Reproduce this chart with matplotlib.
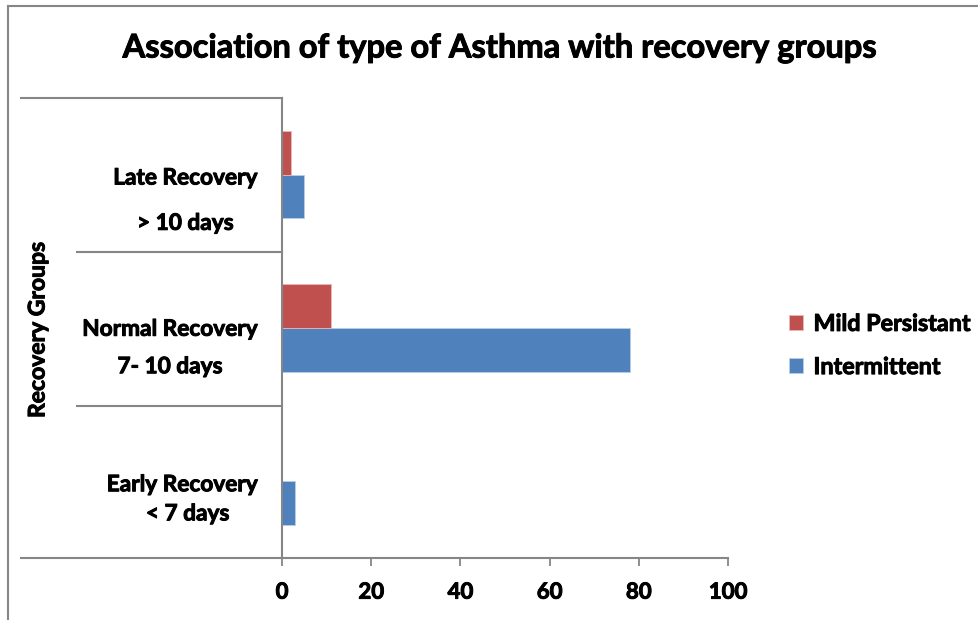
import matplotlib
matplotlib.use("Agg")
import matplotlib.pyplot as plt
from matplotlib.lines import Line2D
from matplotlib.transforms import offset_copy
import matplotlib.patheffects as pe
import numpy as np

# Data
categories = ["Early Recovery\n  < 7 days", "Normal Recovery\n7- 10 days", "Late Recovery\n> 10 days"]
intermittent = [3, 78, 5]
mild_persistant = [0, 11, 2]
series_names = ["Mild Persistant", "Intermittent"]
x_ticks = [0, 20, 40, 60, 80, 100]

RED = "#C0504D"
BLUE = "#4F81BD"
GREY = "#868686"
WEIGHT = "bold"
HEAVY = [pe.withStroke(linewidth=0.7, foreground="black")]

plt.rcParams["font.family"] = ["Lato", "DejaVu Sans"]
plt.rcParams["font.weight"] = WEIGHT

W, H = 979, 620
fig = plt.figure(figsize=(W / 100, H / 100), dpi=100)

def fx(px):
    return px / W

def fy(py):
    return 1 - py / H

ax = fig.add_axes([fx(282), fy(558), fx(728) - fx(282), fy(98) - fy(558)])

y = np.arange(len(categories))
h = 1 / 3.5  # 150% gap width
ax.barh(y - h / 2, intermittent, height=h, color=BLUE, edgecolor="#B9CDE5", linewidth=0.6, label=series_names[1], zorder=2)
ax.barh(y + h / 2, mild_persistant, height=h, color=RED, edgecolor="#E6B9B8", linewidth=0.6, label=series_names[0], zorder=2)

ax.set_xlim(0, 100)
ax.set_ylim(-0.5, len(categories) - 0.5)
ax.set_xticks(x_ticks)
ax.set_xticklabels([str(t) for t in x_ticks], fontsize=16, fontweight=WEIGHT)
for t in ax.get_xticklabels():
    t.set_path_effects(HEAVY)
ax.tick_params(axis="x", length=6, width=1.3, color=GREY, pad=11, direction="out")
ax.set_yticks([])

for side in ("top", "right"):
    ax.spines[side].set_visible(False)
for side in ("left", "bottom"):
    ax.spines[side].set_color(GREY)
    ax.spines[side].set_linewidth(1.5)

# Category labels, each as a centred block right-aligned against the axis
spacings = [1.48, 1.97, 2.43]
drops = [18, 20, 26]  # downward shift of each label block, in pixels
ytrans = ax.get_yaxis_transform()
for yi, label, ls, d in zip(y, categories, spacings, drops):
    tr = offset_copy(ytrans, fig=fig, x=0, y=-d * 72 / 100, units="points")
    ax.text(-0.055, yi, label, transform=tr, ha="right", va="center",
            multialignment="center", fontsize=16.3, fontweight=WEIGHT, linespacing=ls,
            path_effects=HEAVY)

# Category separators extending to the left of the axis
sep_specs = [(98, 21), (252, 77), (406, 77), (558, 21)]
for py, x0 in sep_specs:
    fig.add_artist(Line2D([fx(x0), fx(282)], [fy(py), fy(py)], color=GREY, lw=1.5))

# Axis title
fig.text(fx(38), fy(330), "Recovery Groups", rotation=90, ha="center", va="center",
         fontsize=16.5, fontweight=WEIGHT, path_effects=HEAVY)

# Chart title
fig.text(fx(499), fy(48), "Association of type of Asthma with recovery groups",
         ha="center", va="center", fontsize=23.5, fontweight=WEIGHT, path_effects=HEAVY)

# Legend
handles, labels = ax.get_legend_handles_labels()
leg = fig.legend(handles[::-1], labels[::-1], loc="center left",
                 bbox_to_anchor=(fx(768), fy(346)), frameon=False,
                 prop={"size": 16.8, "weight": WEIGHT}, handlelength=0.6, handleheight=0.6,
                 handletextpad=0.45, labelspacing=0.95)
for t in leg.get_texts():
    t.set_path_effects(HEAVY)

# Outer chart frame (left and top edges)
fig.add_artist(Line2D([fx(8), fx(8)], [fy(6), 0], color=GREY, lw=1.5))
fig.add_artist(Line2D([fx(8), 1], [fy(6), fy(6)], color=GREY, lw=1.5))

fig.savefig("out.png", dpi=100)
